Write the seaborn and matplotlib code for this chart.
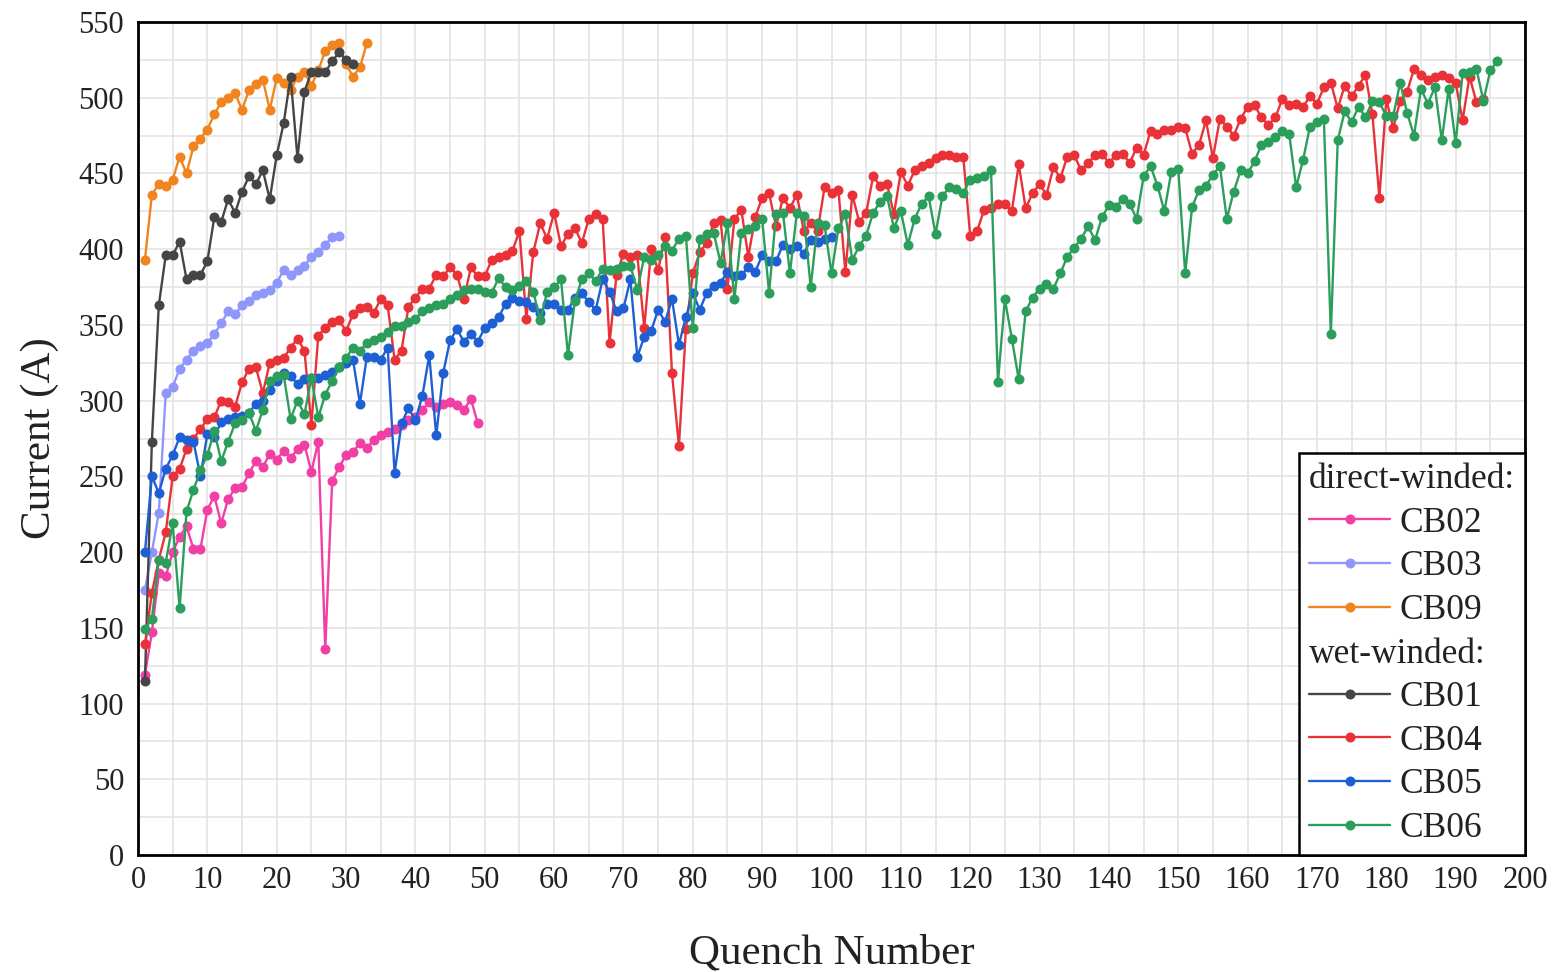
import matplotlib
matplotlib.use("Agg")
import matplotlib.pyplot as plt
from matplotlib.lines import Line2D
from matplotlib.ticker import MultipleLocator
import numpy as np
import seaborn as sns

# quench current (A) for each coil, quench numbers start at 1
cb02 = [119, 147, 186, 184, 200, 210, 217, 202, 202, 228, 237, 219, 235, 242, 243,
        252, 260, 256, 265, 261, 267, 262, 268, 271, 253, 273, 136, 247, 256, 264,
        266, 272, 269, 274, 277, 279, 281, 284, 287, 289, 294, 299, 296, 298, 299,
        297, 294, 301, 285]
cb03 = [175, 200, 226, 305, 309, 321, 327, 333, 336, 338, 344, 351, 359, 357, 363,
        366, 370, 371, 373, 378, 386, 383, 386, 389, 395, 398, 403, 408, 409]
cb09 = [393, 436, 443, 442, 446, 461, 450, 468, 473, 479, 489, 497, 500, 503, 492,
        505, 509, 512, 492, 513, 510, 505, 514, 517, 508, 518, 531, 535, 536, 522,
        514, 520, 536]
cb01 = [115, 273, 363, 396, 396, 405, 380, 383, 383, 392, 421, 418, 433, 424, 438,
        448, 443, 452, 433, 462, 483, 514, 460, 504, 517, 517, 517, 524, 530, 525,
        522]
cb04 = [139, 173, 195, 213, 250, 255, 268, 275, 281, 288, 289, 300, 299, 296, 312,
        321, 322, 305, 325, 327, 328, 335, 341, 333, 284, 343, 348, 352, 353, 346,
        357, 361, 362, 358, 367, 363, 327, 333, 362, 368, 374, 374, 383, 382, 388,
        383, 367, 388, 382, 382, 393, 395, 396, 399, 412, 354, 398, 417, 407, 424,
        402, 410, 414, 404, 420, 423, 420, 338, 383, 397, 395, 396, 348, 400, 386,
        408, 318, 270, 347, 384, 398, 404, 417, 419, 374, 420, 426, 395, 421, 434,
        437, 415, 434, 427, 436, 412, 417, 412, 441, 437, 439, 385, 436, 418, 424,
        448, 442, 443, 423, 451, 442, 452, 455, 457, 460, 462, 462, 461, 461, 409,
        412, 426, 427, 430, 430, 425, 456, 427, 437, 443, 436, 454, 447, 461, 462,
        452, 457, 462, 463, 457, 462, 463, 457, 467, 462, 478, 476, 479, 479, 481,
        480, 463, 469, 485, 460, 486, 481, 475, 486, 494, 495, 487, 482, 487, 499,
        495, 496, 494, 501, 496, 507, 510, 493, 508, 501, 508, 515, 489, 434, 499,
        480, 498, 504, 519, 515, 512, 514, 515, 513, 510, 485, 514, 497, 499]
cb05 = [200, 250, 239, 255, 264, 276, 274, 273, 250, 278, 276, 286, 288, 289, 290,
        292, 298, 300, 307, 313, 318, 316, 311, 314, 315, 315, 317, 319, 322, 325,
        327, 298, 329, 329, 327, 335, 252, 285, 295, 287, 303, 330, 277, 318, 340,
        347, 339, 344, 339, 348, 351, 355, 364, 368, 366, 365, 362, 358, 364, 364,
        360, 360, 368, 371, 365, 360, 380, 372, 359, 361, 380, 329, 342, 346, 360,
        352, 367, 337, 355, 371, 360, 371, 376, 378, 385, 382, 383, 388, 385, 396,
        392, 392, 403, 400, 402, 397, 406, 405, 407, 408]
cb06 = [149, 156, 195, 193, 219, 163, 227, 241, 254, 264, 280, 260, 273, 285, 287,
        292, 280, 294, 313, 316, 317, 288, 300, 291, 315, 289, 304, 313, 322, 328,
        335, 333, 338, 340, 342, 345, 349, 349, 352, 354, 359, 361, 363, 364, 367,
        370, 373, 374, 374, 372, 371, 381, 375, 373, 376, 379, 372, 353, 372, 375,
        380, 330, 366, 380, 384, 379, 387, 386, 387, 389, 389, 373, 395, 393, 396,
        402, 399, 407, 409, 348, 407, 410, 411, 391, 417, 367, 411, 413, 415, 420,
        371, 423, 424, 384, 424, 422, 375, 417, 416, 384, 414, 423, 393, 402, 409,
        424, 431, 435, 414, 425, 403, 420, 430, 435, 410, 435, 441, 440, 437, 446,
        447, 448, 452, 312, 367, 341, 314, 359, 368, 374, 377, 374, 384, 395, 401,
        407, 415, 406, 421, 429, 428, 433, 430, 420, 448, 455, 442, 425, 451, 453,
        384, 428, 439, 442, 449, 455, 420, 438, 452, 450, 458, 469, 471, 474, 478,
        476, 441, 459, 481, 484, 486, 344, 472, 491, 484, 494, 487, 498, 497, 488,
        488, 510, 490, 475, 506, 496, 507, 472, 506, 470, 516, 517, 519, 498, 518,
        524]

series = [
    ("CB02", cb02, "#f23fa6"),
    ("CB03", cb03, "#8f97fb"),
    ("CB09", cb09, "#f0841f"),
    ("CB01", cb01, "#454545"),
    ("CB04", cb04, "#e93238"),
    ("CB05", cb05, "#1f5fd4"),
    ("CB06", cb06, "#2c9e5c"),
]

sns.set_style("whitegrid")
plt.rcParams["font.family"] = ["Liberation Serif", "DejaVu Serif"]

fig = plt.figure(figsize=(15.55, 9.72), dpi=100)
ax = fig.add_axes([138 / 1555, 1 - 855 / 972, (1525 - 138) / 1555, (855 - 22) / 972])

for name, vals, col in series:
    sns.lineplot(x=np.arange(1, len(vals) + 1), y=vals, color=col, marker="o",
                 markersize=7.2, markeredgewidth=0, linewidth=1.7, label=name, ax=ax)

ax.set_xlim(0, 200)
ax.set_ylim(0, 550)
ax.xaxis.set_major_locator(MultipleLocator(10))
ax.xaxis.set_minor_locator(MultipleLocator(5))
ax.yaxis.set_major_locator(MultipleLocator(50))
ax.yaxis.set_minor_locator(MultipleLocator(25))
ax.grid(which="both", color="#e2e2e2", linewidth=1.1)
ax.tick_params(which="both", length=0, labelsize=22, colors="#222222")
ax.tick_params(axis="x", pad=8)
ax.tick_params(axis="y", pad=10)
for sp in ax.spines.values():
    sp.set_color("black")
    sp.set_linewidth(2)

ax.set_xlabel("Quench Number", fontsize=31, labelpad=28, color="#222222")
ax.set_ylabel("Current (A)", fontsize=31, labelpad=14, color="#222222")

handles, labels = ax.get_legend_handles_labels()
blank = Line2D([], [], linestyle="none")
handles = [blank] + handles[:3] + [blank] + handles[3:]
labels = ["direct-winded:"] + labels[:3] + ["wet-winded:"] + labels[3:]
leg = ax.legend(handles, labels, loc="lower right", borderaxespad=0, fontsize=25.5,
                frameon=True, fancybox=False, framealpha=1, edgecolor="black",
                handlelength=2.3, handletextpad=0.25, labelspacing=0.3,
                borderpad=0.28, numpoints=1)
leg.get_frame().set_linewidth(1.8)
for t in leg.get_texts():
    t.set_color("#222222")

# pull the two group headers to the left edge of the legend box
items = leg._legend_handle_box.get_children()[0].get_children()
for i in (0, 4):
    items[i].get_children()[0].width = 0
    items[i].sep = 0

fig.savefig("out.png", dpi=100)
